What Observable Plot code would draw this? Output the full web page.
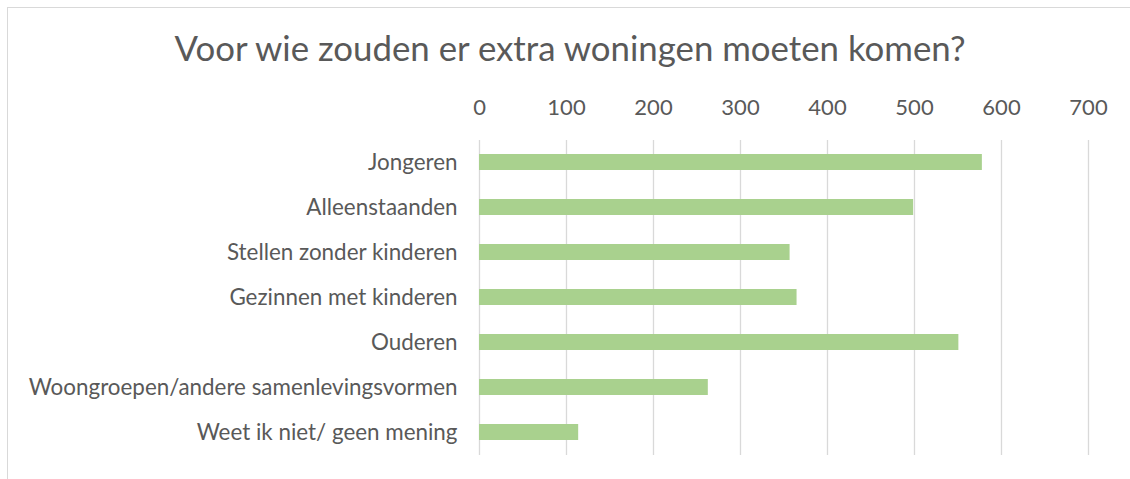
<!DOCTYPE html>
<html>
<head>
<meta charset="utf-8">
<script src="https://cdn.jsdelivr.net/npm/d3@7"></script>
<script src="https://cdn.jsdelivr.net/npm/@observablehq/plot@0.6"></script>
<style>
  html, body { margin: 0; padding: 0; background: #fff; }
  #wrap { position: relative; width: 1130px; height: 479px; overflow: hidden; font-family: Lato, "Open Sans", sans-serif; }
  #frame { position: absolute; left: 7px; top: 7px; width: 1140px; height: 490px; border: 1px solid #d9d9d9; box-sizing: border-box; }
  #title { position: absolute; left: 0; width: 1140px; top: 27px; text-align: center; font-size: 34.8px; color: #595959; white-space: nowrap; }
  #chart { position: absolute; left: 0; top: 0; }
</style>
</head>
<body>
<div id="wrap">
  <div id="frame"></div>
  <div id="title">Voor wie zouden er extra woningen moeten komen?</div>
  <div id="chart"></div>
</div>
<script>
const categories = [
  "Jongeren",
  "Alleenstaanden",
  "Stellen zonder kinderen",
  "Gezinnen met kinderen",
  "Ouderen",
  "Woongroepen/andere samenlevingsvormen",
  "Weet ik niet/ geen mening"
];
const counts = [578, 499, 357, 365, 551, 263, 114];
const xTicks = [0, 100, 200, 300, 400, 500, 600, 700];

const data = categories.map((c, i) => ({category: c, value: counts[i]}));

const chart = Plot.plot({
  width: 1130,
  height: 479,
  marginLeft: 479,
  marginRight: 42,
  marginTop: 140,
  marginBottom: 24,
  style: {fontFamily: "Lato, 'Open Sans', sans-serif", fontSize: "22px", color: "#595959", background: "transparent", overflow: "visible"},
  x: {domain: [0, 700], ticks: xTicks, axis: null},
  y: {domain: categories, paddingInner: 0.64, paddingOuter: 0.32, axis: null},
  marks: [
    Plot.ruleX(xTicks, {stroke: "#d9d9d9", strokeWidth: 1.3, strokeOpacity: 1}),
    Plot.barX(data, {y: "category", x: "value", fill: "#a9d18e"}),
    Plot.axisX({anchor: "top", ticks: xTicks, tickSize: 0, tickPadding: 26, fontSize: 22, fill: "#595959", label: null}),
    Plot.axisY({anchor: "left", tickSize: 0, tickPadding: 22, fontSize: 22.4, fill: "#595959", label: null})
  ]
});
document.getElementById("chart").appendChild(chart);
</script>
</body>
</html>
